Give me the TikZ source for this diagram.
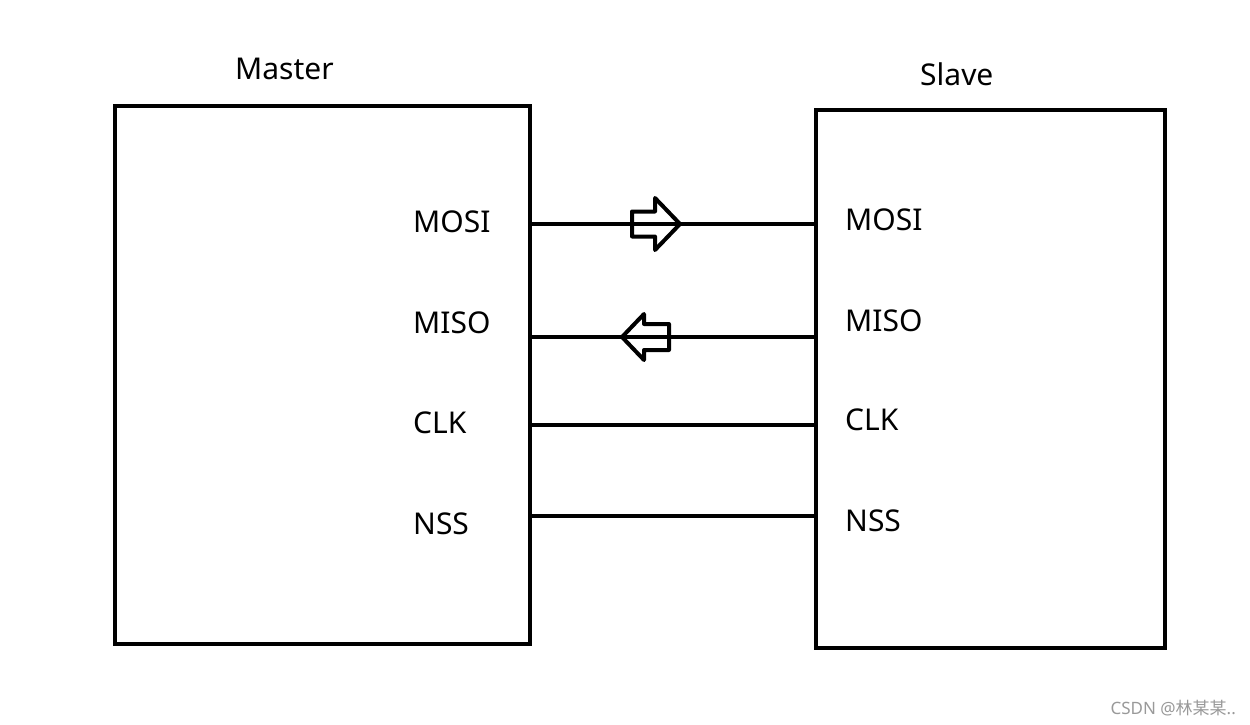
\documentclass[tikz,border=0pt]{standalone}
\usepackage{fontspec}
\setmainfont{Noto Sans}
\newfontfamily\cjkfont{Noto Sans CJK SC}
\usepackage{tikz}
\usetikzlibrary{positioning}
\tikzset{
    chip/.style={rectangle, draw, line width=4.5pt, inner sep=0pt, minimum width=#1},
    pin/.style={anchor=base west, inner sep=0pt, font=\fontsize{30}{36}\selectfont},
    title/.style={anchor=base west, inner sep=0pt, font=\fontsize{30}{36}\selectfont},
    wire/.style={line width=4pt},
    hollow/.style={line width=4pt, line join=round}
}

\begin{document}
\begin{tikzpicture}[x=1pt, y=-1pt]
    \useasboundingbox (0,0) rectangle (1250,725);
    % Place nodes
    \node [chip=415pt, minimum height=538pt] (master) at (322.5,375) {};
    \node [chip=349pt, minimum height=538pt] (slave) at (990.5,379) {};
    \node [title] (mastername) at (235,80) {Master};
    \node [title] (slavename) at (920,85) {Slave};

    \node [pin] (mmosi) at (413,232) {MOSI};
    \node [pin] (mmiso) at (413,333) {MISO};
    \node [pin] (mclk) at (413,433) {CLK};
    \node [pin] (mnss) at (413,534) {NSS};
    \node [pin] (smosi) at (845,230) {MOSI};
    \node [pin] (smiso) at (845,331) {MISO};
    \node [pin] (sclk) at (845,430) {CLK};
    \node [pin] (snss) at (845,531) {NSS};

    \node [anchor=base east, inner sep=0pt, text=black!40, font=\fontsize{17}{20}\selectfont] (mark) at (1236,714) {CSDN @{\cjkfont 林某某}..};

    % Draw edges
    \coordinate (ymosi) at (0,224);
    \coordinate (ymiso) at (0,337);
    \coordinate (yclk) at (0,425);
    \coordinate (ynss) at (0,516);
    \draw [wire] (master.east |- ymosi) -- (slave.west |- ymosi);
    \draw [wire] ([xshift=-4pt]master.east |- ymiso) -- (slave.west |- ymiso);
    \draw [wire] (master.east |- yclk) -- (slave.west |- yclk);
    \draw [wire] (master.east |- ynss) -- ([xshift=4pt]slave.west |- ynss);

    % Direction arrows
    \draw [hollow] (632,211.5) -- (655,211.5) -- (655,198) -- (680,224) -- (655,250) -- (655,236.5) -- (632,236.5) -- cycle;
    \draw [hollow] (669,324) -- (644,324) -- (644,314) -- (622,337) -- (644,360) -- (644,350) -- (669,350) -- cycle;
\end{tikzpicture}
\end{document}
